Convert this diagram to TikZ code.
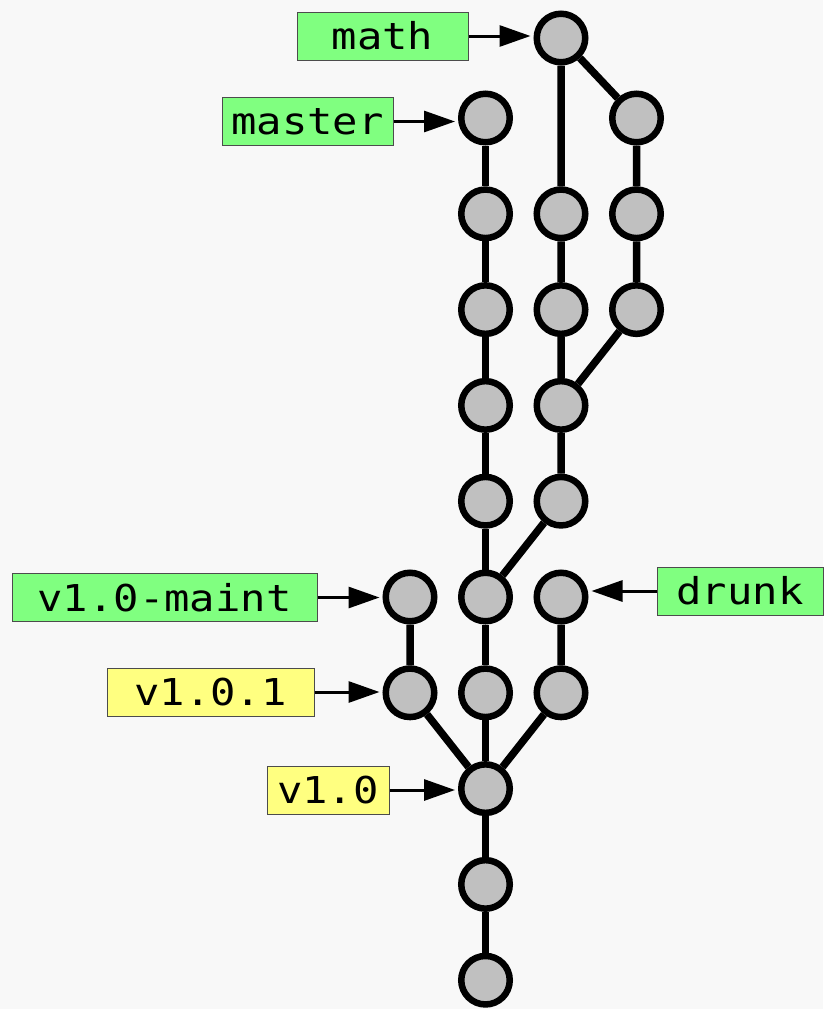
\documentclass[tikz,border=0pt]{standalone}
\usepackage{fontspec}
\usepackage{tikz}
\usetikzlibrary{arrows.meta}
\usepackage{xcolor}
\newfontfamily\reflabelfont[FakeStretch=1.14]{DejaVu Sans Mono}
\definecolor{branchgreen}{HTML}{80FF80}
\definecolor{tagyellow}{HTML}{FFFF80}
\definecolor{commitgray}{HTML}{C0C0C0}
\definecolor{paper}{HTML}{F8F8F8}

\begin{document}
\begin{tikzpicture}[x=1pt,y=-1pt]
\tikzstyle{commit}=[circle,draw=black,fill=commitgray,line width=6.5pt,minimum size=48.5pt,inner sep=0pt]
\tikzstyle{branch}=[draw=black!70,line width=1pt,fill=branchgreen,minimum height=48pt,inner sep=0pt,font=\reflabelfont\fontsize{37}{37}\selectfont]
\tikzstyle{tag}=[branch,fill=tagyellow]
\tikzstyle{link}=[line width=7.5pt]
\tikzstyle{ref}=[line width=3pt,shorten >=3pt,-{Triangle[length=31pt,width=21pt]}]
\fill[paper] (0,0) rectangle (823,1009);
\useasboundingbox (0,0) rectangle (823,1009);
% commits
\node[commit] (m0) at (561,38) {};
\node[commit] (a0) at (485.5,118) {};
\node[commit] (a1) at (485.5,213.8) {};
\node[commit] (a2) at (485.5,309.6) {};
\node[commit] (a3) at (485.5,405.4) {};
\node[commit] (a4) at (485.5,501.2) {};
\node[commit] (a5) at (485.5,597) {};
\node[commit] (a6) at (485.5,692.8) {};
\node[commit] (a7) at (485.5,788.6) {};
\node[commit] (a8) at (485.5,884.4) {};
\node[commit] (a9) at (485.5,980.2) {};
\node[commit] (b1) at (561,213.8) {};
\node[commit] (b2) at (561,309.6) {};
\node[commit] (b3) at (561,405.4) {};
\node[commit] (b4) at (561,501.2) {};
\node[commit] (b6) at (561,597) {};
\node[commit] (b7) at (561,692.8) {};
\node[commit] (c0) at (636.5,118) {};
\node[commit] (c1) at (636.5,213.8) {};
\node[commit] (c2) at (636.5,309.6) {};
\node[commit] (d6) at (410,597) {};
\node[commit] (d7) at (410,692.8) {};
% history
\draw[link] (a0) -- (a1) -- (a2) -- (a3) -- (a4) -- (a5) -- (a6) -- (a7) -- (a8) -- (a9);
\draw[link] (m0) -- (b1) -- (b2) -- (b3) -- (b4) -- (a5);
\draw[link] (m0) -- (c0) -- (c1) -- (c2) -- (b3);
\draw[link] (d6) -- (d7) -- (a7);
\draw[link] (b6) -- (b7) -- (a7);
% refs
\node[branch,minimum width=171pt] (math) at (382.5,36) {math};
\node[branch,minimum width=171pt] (master) at (307.5,121.5) {master};
\node[branch,minimum width=305pt] (maint) at (164.5,597.5) {v1.0-maint};
\node[branch,minimum width=166pt] (drunk) at (740,591) {drunk};
\node[tag,minimum width=207pt] (v101) at (210.5,692) {v1.0.1};
\node[tag,minimum width=122pt] (v10) at (328,790) {v1.0};
\draw[ref] (math.east) -- (math.east -| m0.west);
\draw[ref] (master.east) -- (master.east -| a0.west);
\draw[ref] (maint.east) -- (maint.east -| d6.west);
\draw[ref] (drunk.west) -- (drunk.west -| b6.east);
\draw[ref] (v101.east) -- (v101.east -| d7.west);
\draw[ref] (v10.east) -- (v10.east -| a7.west);
\end{tikzpicture}
\end{document}
